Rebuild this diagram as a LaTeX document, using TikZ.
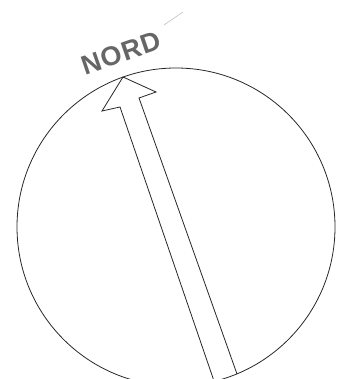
\documentclass[tikz,border=0pt]{standalone}
\usepackage{fontspec}
\setmainfont{Liberation Sans}
\usetikzlibrary{positioning}

\begin{document}
\begin{tikzpicture}[
    x=1pt, y=-1pt,
    every node/.style={font=\small},
    ring/.style={circle, draw=black!85, line width=0.8pt, minimum size=318pt, inner sep=0pt},
    pfeil/.style={draw=black!85, line width=0.8pt, line join=miter},
    lbl/.style={font=\fontsize{27}{27}\selectfont\bfseries, text=black!60, inner sep=0pt},
    blass/.style={draw=black!20, line width=0.8pt},
  ]
  \useasboundingbox (0,0) rectangle (345,379);
  \clip (0,0) rectangle (345,379);
  \node[ring] (kreis) at (176,227) {};
  \node[lbl, rotate=19] (nord) at (121,53) {N\kern1ptO\kern1ptR\kern1ptD};
  \coordinate (spitze) at (123,77);
  \coordinate (bl) at (102,111);
  \coordinate (br) at (156,92);
  \coordinate (kl) at (120,107);
  \coordinate (kr) at (139,98);
  \coordinate (fl) at (214,381);
  \coordinate (fr) at (237,374);
  \draw[pfeil] (fl) -- (kl) -- (bl) -- (spitze) -- (br) -- (kr) -- (fr);
  \coordinate (s1) at (164,25);
  \coordinate (s2) at (183,12);
  \draw[blass] (s1) -- (s2);
\end{tikzpicture}
\end{document}
